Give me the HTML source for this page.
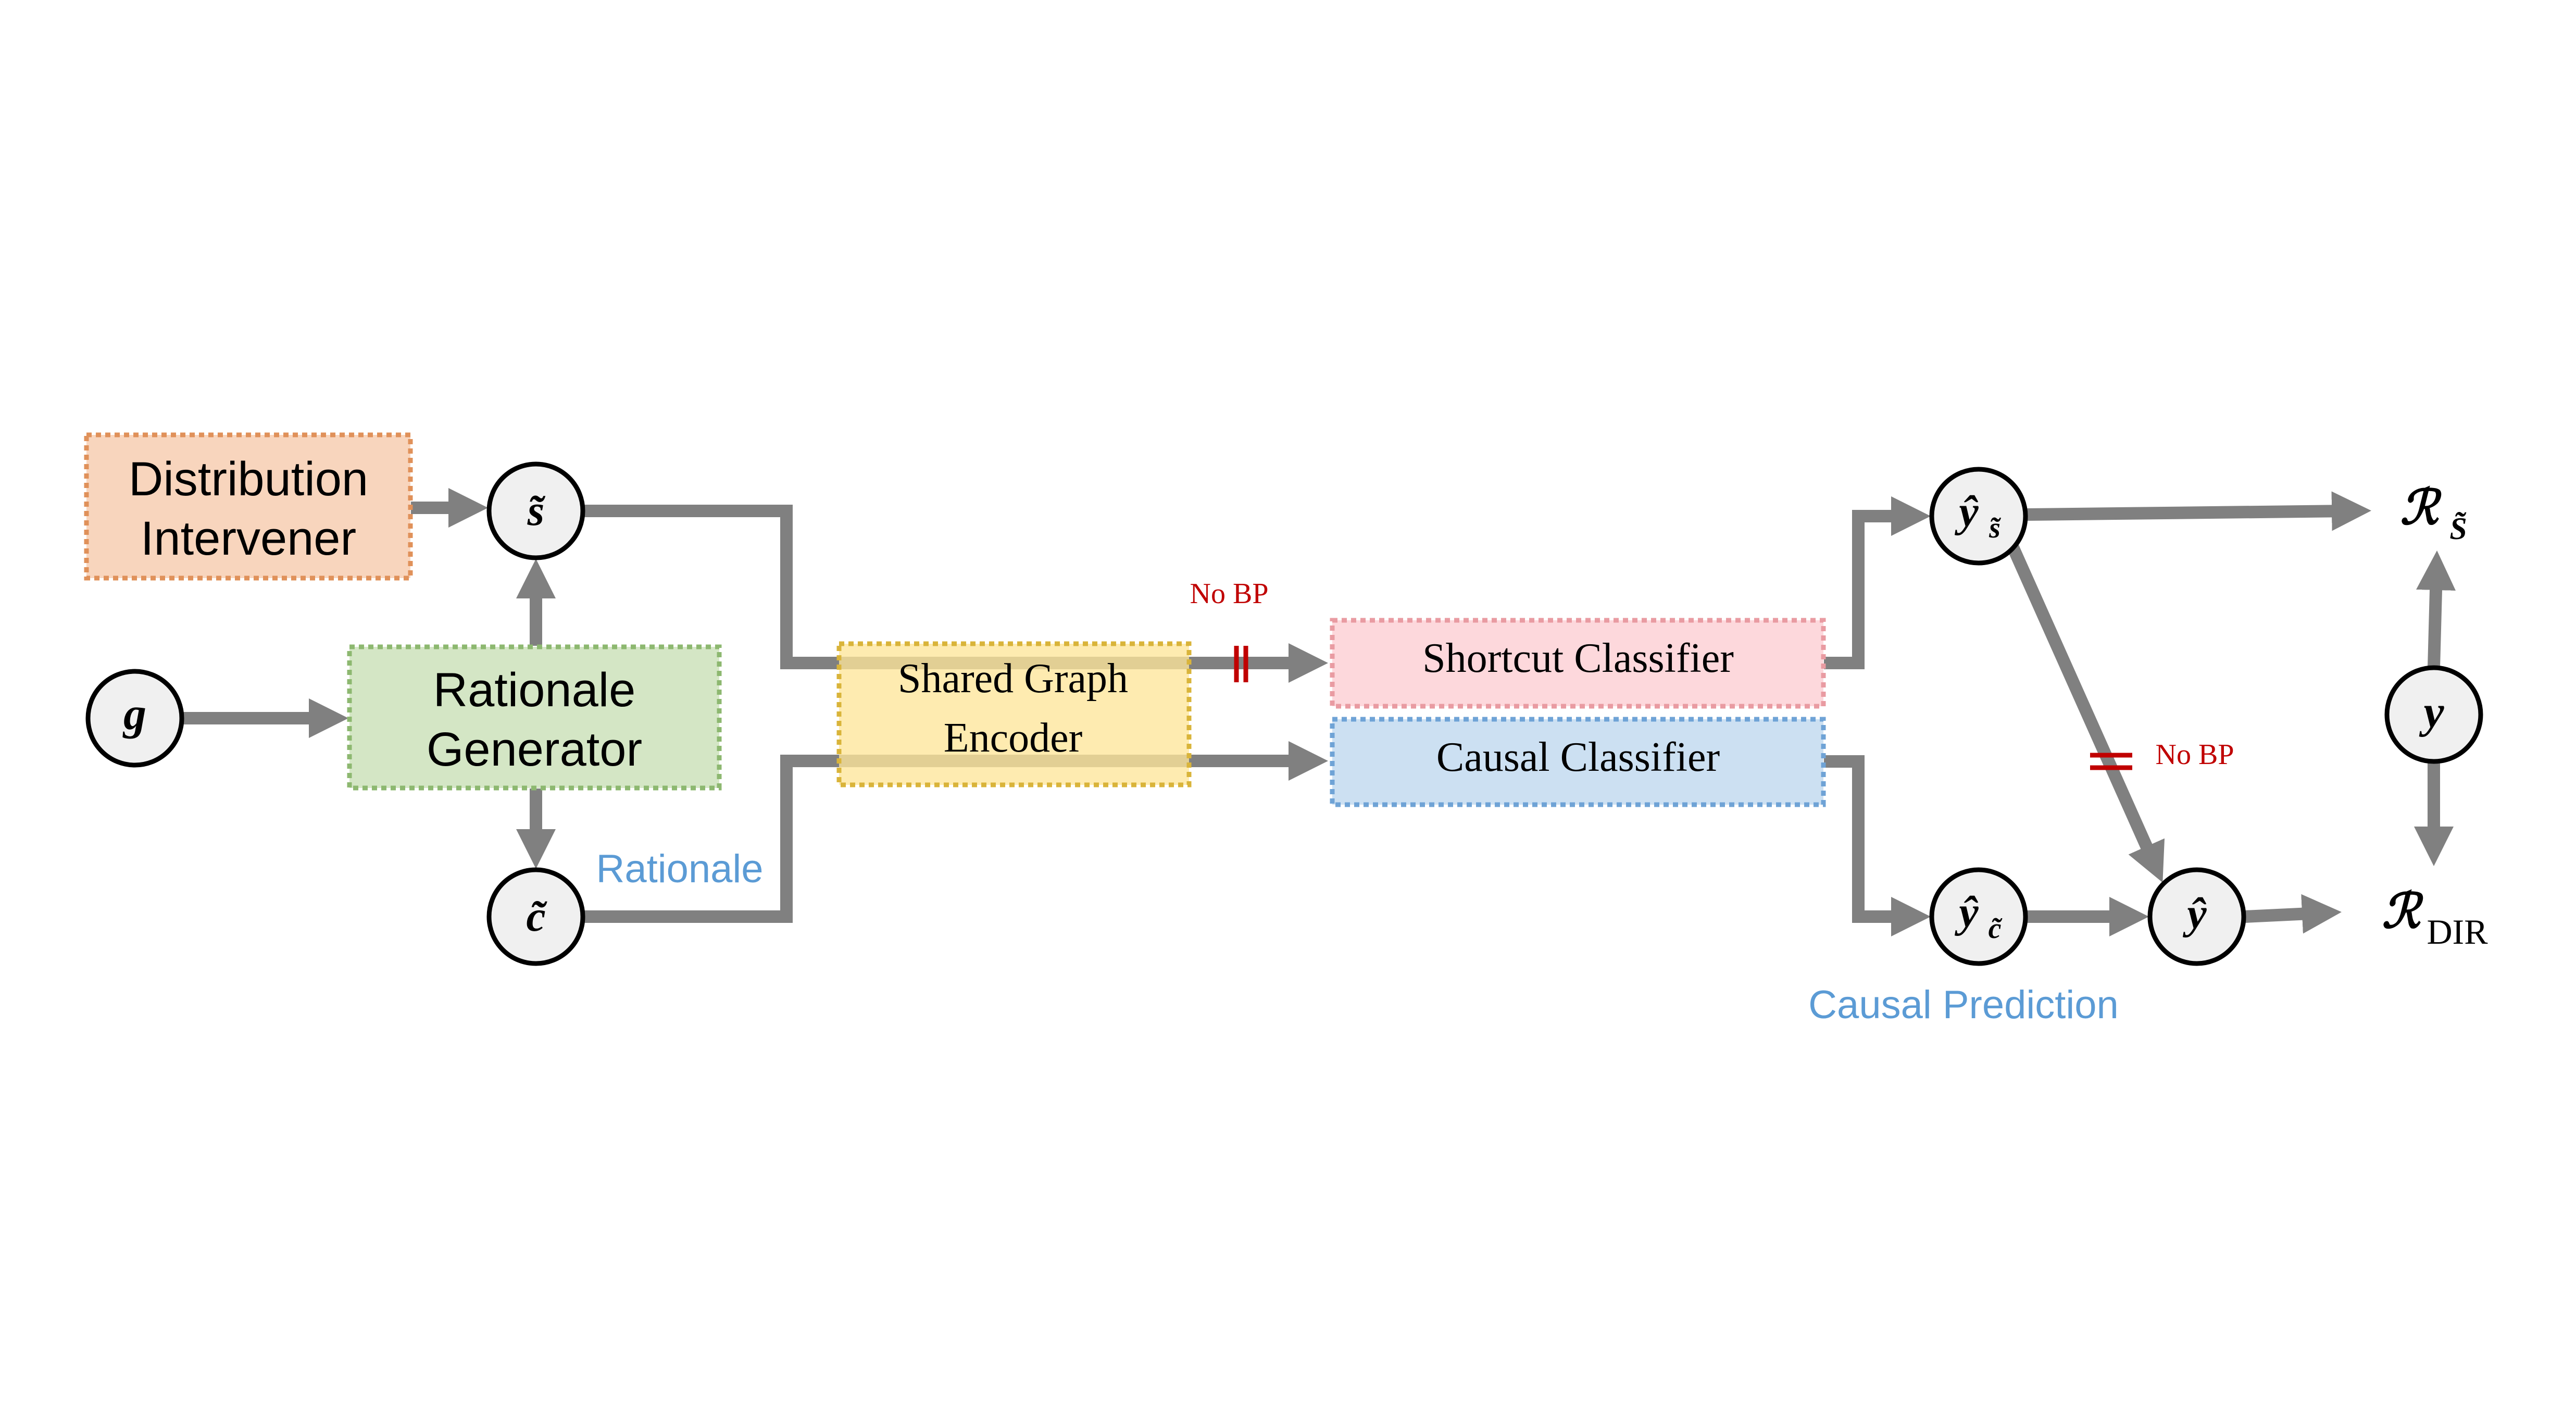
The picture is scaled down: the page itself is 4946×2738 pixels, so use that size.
<!DOCTYPE html>
<html><head><meta charset="utf-8"><style>html,body{margin:0;padding:0;background:#fff}svg{display:block}</style></head>
<body>
<svg width="4946" height="2738" viewBox="0 0 4946 2738" xmlns="http://www.w3.org/2000/svg">
<defs>
<marker id="ah" markerUnits="userSpaceOnUse" markerWidth="80" markerHeight="80" refX="36" refY="38" orient="auto">
<path d="M0,0 L76,38 L0,76 z" fill="#808080"/>
</marker>
</defs>
<rect width="4946" height="2738" fill="#fff"/>
<g fill="none" stroke="#808080" stroke-width="24">
<!-- DI -> s -->
<line x1="789" y1="975" x2="897" y2="975" marker-end="url(#ah)"/>
<!-- RG -> s -->
<line x1="1029" y1="1240" x2="1029" y2="1113" marker-end="url(#ah)"/>
<!-- g -> RG -->
<line x1="351" y1="1379" x2="629" y2="1379" marker-end="url(#ah)"/>
<!-- RG -> c -->
<line x1="1029" y1="1514" x2="1029" y2="1628" marker-end="url(#ah)"/>
<!-- s -> encoder -> shortcut -->
<polyline points="1121,981 1510,981 1510,1273 2510,1273" marker-end="url(#ah)"/>
<!-- c -> encoder -> causal -->
<polyline points="1121,1760 1510,1760 1510,1461 2510,1461" marker-end="url(#ah)"/>
<!-- shortcut -> ys -->
<polyline points="3502,1273 3568,1273 3568,991 3667,991" marker-end="url(#ah)"/>
<!-- causal -> yc -->
<polyline points="3502,1462 3568,1462 3568,1760 3667,1760" marker-end="url(#ah)"/>
<!-- yc -> y hat -->
<line x1="3891" y1="1760" x2="4086" y2="1760" marker-end="url(#ah)"/>
<!-- yhat -> RDIR -->
<line x1="4310" y1="1760" x2="4456" y2="1753" marker-end="url(#ah)"/>
<!-- ys -> RS -->
<line x1="3891" y1="988" x2="4513" y2="981" marker-end="url(#ah)"/>
<!-- ys diag -> yhat -->
<line x1="3865" y1="1051" x2="4136" y2="1658" marker-end="url(#ah)"/>
<!-- y up / down -->
<line x1="4673" y1="1282" x2="4678" y2="1097" marker-end="url(#ah)"/>
<line x1="4673" y1="1462" x2="4673" y2="1623" marker-end="url(#ah)"/>
</g>
<!-- boxes -->
<rect x="166" y="835" width="622" height="275" fill="#f8d5bd" stroke="#e0915a" stroke-width="9" stroke-dasharray="10 8"/>
<rect x="671" y="1242" width="710" height="271" fill="#d4e6c5" stroke="#8db870" stroke-width="9" stroke-dasharray="10 8"/>
<rect x="1611" y="1236" width="672" height="271" fill="#fee59a" fill-opacity="0.78" stroke="#d9b43a" stroke-width="9" stroke-dasharray="10 8"/>
<rect x="2558" y="1191" width="943" height="165" fill="#fdd8dc" stroke="#e99ba2" stroke-width="9" stroke-dasharray="10 8"/>
<rect x="2558" y="1381" width="943" height="164" fill="#cce0f2" stroke="#6fa3d6" stroke-width="9" stroke-dasharray="10 8"/>
<!-- circles -->
<g fill="#f0f0f0" stroke="#000" stroke-width="9">
<circle cx="1029" cy="981" r="90"/>
<circle cx="259" cy="1379" r="90"/>
<circle cx="1029" cy="1760" r="90"/>
<circle cx="3799" cy="991" r="90"/>
<circle cx="3799" cy="1760" r="90"/>
<circle cx="4218" cy="1760" r="90"/>
<circle cx="4673" cy="1372" r="90"/>
</g>
<!-- red marks -->
<g stroke="#c00000" stroke-width="9">
<line x1="2374" y1="1240" x2="2374" y2="1310"/>
<line x1="2392" y1="1240" x2="2392" y2="1310"/>
<line x1="4013" y1="1450" x2="4094" y2="1450"/>
<line x1="4013" y1="1474" x2="4094" y2="1474"/>
</g>
<g font-family="'Liberation Sans', sans-serif" text-anchor="middle" fill="#000">
<text x="477" y="951" font-size="92">Distribution</text>
<text x="477" y="1065" font-size="92">Intervener</text>
<text x="1026" y="1356" font-size="92">Rationale</text>
<text x="1026" y="1470" font-size="92">Generator</text>
<text x="1305" y="1694" font-size="76" fill="#5b9bd5">Rationale</text>
<text x="3770" y="1955" font-size="76" fill="#5b9bd5">Causal Prediction</text>
</g>
<g font-family="'Liberation Serif', serif" text-anchor="middle" fill="#000">
<text x="1945" y="1329" font-size="80">Shared Graph</text>
<text x="1945" y="1443" font-size="80">Encoder</text>
<text x="3030" y="1290" font-size="80">Shortcut Classifier</text>
<text x="3030" y="1480" font-size="80">Causal Classifier</text>
<text x="2360" y="1158" font-size="56" fill="#c00000">No BP</text>
<text x="4214" y="1467" font-size="56" fill="#c00000">No BP</text>
</g>
<g font-family="'Liberation Serif', serif" font-style="italic" font-weight="bold" text-anchor="middle" fill="#000">
<text x="1029" y="1008" font-size="84">s̃</text>
<text x="259" y="1400" font-size="88">g</text>
<text x="1029" y="1787" font-size="84">c̃</text>
<text x="3780" y="1010" font-size="84">ŷ</text>
<text x="3830" y="1032" font-size="56">s̃</text>
<text x="3780" y="1779" font-size="84">ŷ</text>
<text x="3830" y="1801" font-size="56">c̃</text>
<text x="4218" y="1782" font-size="84">ŷ</text>
<text x="4673" y="1396" font-size="88">y</text>
<text x="4645" y="1006" font-size="92" font-family="'DejaVu Serif', serif">ℛ</text>
<text x="4720" y="1035" font-size="60">S̃</text>
<text x="4610" y="1781" font-size="92" font-family="'DejaVu Serif', serif">ℛ</text>
</g>
<text x="4718" y="1812" font-size="68" font-family="'Liberation Serif', serif" text-anchor="middle">DIR</text>
</svg>
</body></html>
